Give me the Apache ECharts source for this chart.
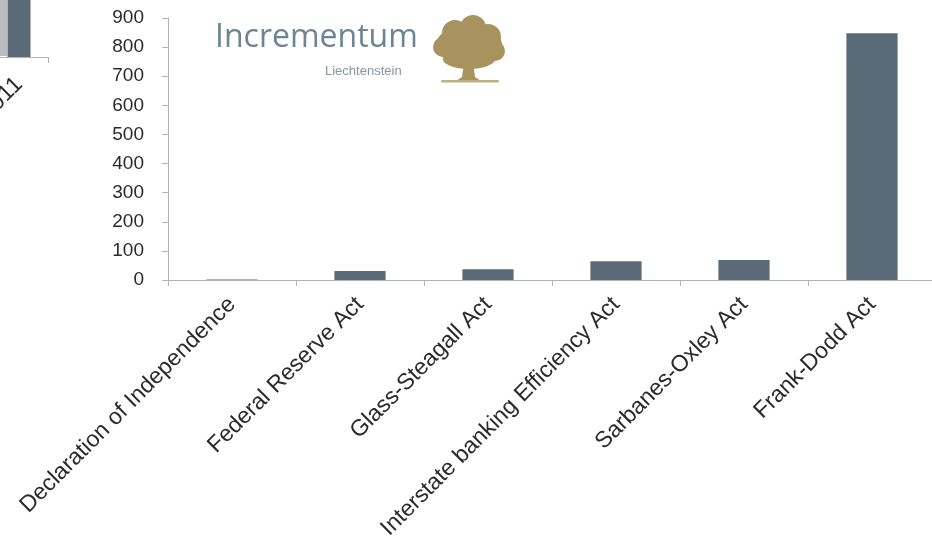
<!DOCTYPE html>
<html>
<head>
<meta charset="utf-8">
<script src="https://cdn.jsdelivr.net/npm/echarts@6/dist/echarts.min.js"></script>
<style>html,body{margin:0;padding:0;background:#fff}#c{width:932px;height:537px}</style>
</head>
<body>
<div id="c"></div>
<script>
var categories = ['Declaration of Independence', 'Federal Reserve Act', 'Glass-Steagall Act', 'Interstate banking Efficiency Act', 'Sarbanes-Oxley Act', 'Frank-Dodd Act'];
var pages = [1.3, 31, 37, 64, 69, 848];
var yTicks = [0, 100, 200, 300, 400, 500, 600, 700, 800, 900];
var leftCategories = ['2011'];
var leftValuesDark = [100];
var leftValuesLight = [100];

var slate = '#5a6a77';
var axisGray = '#b3b3b3';
var font = 'Liberation Sans, Arial, sans-serif';
var gold = '#a8925e';

var chart = echarts.init(document.getElementById('c'));
chart.setOption({
  animation: false,
  backgroundColor: '#fff',
  grid: [
    {left: 168, right: -4, top: 18, bottom: 257, containLabel: false, outerBoundsMode: 'none'},
    {left: -10, width: 58, top: -60, height: 117, containLabel: false, outerBoundsMode: 'none'},
    {left: -10, width: 20, top: -60, height: 116, containLabel: false, outerBoundsMode: 'none'}
  ],
  xAxis: [{
    gridIndex: 0,
    type: 'category',
    data: categories,
    axisLine: {lineStyle: {color: axisGray, width: 1}},
    axisTick: {show: true, length: 6, lineStyle: {color: axisGray}},
    axisLabel: {rotate: 45, interval: 0, margin: 21, color: '#2a2a2a', fontSize: 23, fontFamily: font}
  }, {
    gridIndex: 1,
    type: 'category',
    data: leftCategories,
    axisLine: {lineStyle: {color: axisGray, width: 1}},
    axisTick: {show: true, length: 6, lineStyle: {color: axisGray}},
    axisLabel: {rotate: 45, interval: 0, margin: 24, color: '#2a2a2a', fontSize: 23, fontFamily: font}
  }, {
    gridIndex: 2,
    type: 'category',
    data: leftCategories,
    show: false
  }],
  yAxis: [{
    gridIndex: 0,
    type: 'value',
    min: 0, max: 900, interval: 100,
    axisLine: {show: true, lineStyle: {color: axisGray, width: 1}},
    axisTick: {show: true, length: 6, lineStyle: {color: axisGray}},
    splitLine: {show: false},
    axisLabel: {margin: 24, color: '#2a2a2a', fontSize: 19, fontFamily: font,
      formatter: function (v) { return yTicks.indexOf(v) >= 0 ? String(v) : ''; }}
  }, {
    gridIndex: 1, type: 'value', min: 0, max: 100, show: false
  }, {
    gridIndex: 2, type: 'value', min: 0, max: 100, show: false
  }],
  series: [{
    type: 'bar',
    xAxisIndex: 0, yAxisIndex: 0,
    data: pages,
    barWidth: '40%',
    itemStyle: {color: slate}
  }, {
    type: 'bar',
    xAxisIndex: 1, yAxisIndex: 1,
    data: leftValuesDark,
    barWidth: 23,
    itemStyle: {color: slate}
  }, {
    type: 'bar',
    xAxisIndex: 2, yAxisIndex: 2,
    data: leftValuesLight,
    barWidth: 14,
    itemStyle: {color: '#b9bdc0'}
  }],
  graphic: [
    {type: 'text', left: 215, top: 22, style: {text: 'Incrementum', font: '32px "Open Sans", Liberation Sans, sans-serif', fill: '#6d8494'}},
    {type: 'text', left: 325, top: 65, style: {text: 'Liechtenstein', font: '13px Liberation Sans, sans-serif', fill: '#8596a1'}},
    {type: 'group', left: 433, top: 15, children: [
      {type: 'ellipse', shape: {cx: 36, cy: 30, rx: 33, ry: 20}, style: {fill: gold}},
      {type: 'circle', shape: {cx: 22, cy: 18, r: 13}, style: {fill: gold}},
      {type: 'circle', shape: {cx: 40, cy: 13, r: 13}, style: {fill: gold}},
      {type: 'circle', shape: {cx: 55, cy: 22, r: 13}, style: {fill: gold}},
      {type: 'circle', shape: {cx: 10, cy: 32, r: 10}, style: {fill: gold}},
      {type: 'circle', shape: {cx: 62, cy: 36, r: 10}, style: {fill: gold}},
      {type: 'ellipse', shape: {cx: 36, cy: 44, rx: 26, ry: 10}, style: {fill: gold}},
      {type: 'polygon', shape: {points: [[31, 48], [40, 48], [42, 62], [48, 66], [23, 66], [29, 62]]}, style: {fill: gold}},
      {type: 'rect', shape: {x: 8, y: 65, width: 58, height: 2.5, r: 1.2}, style: {fill: '#bfae85'}}
    ]}
  ]
});
</script>
</body>
</html>
